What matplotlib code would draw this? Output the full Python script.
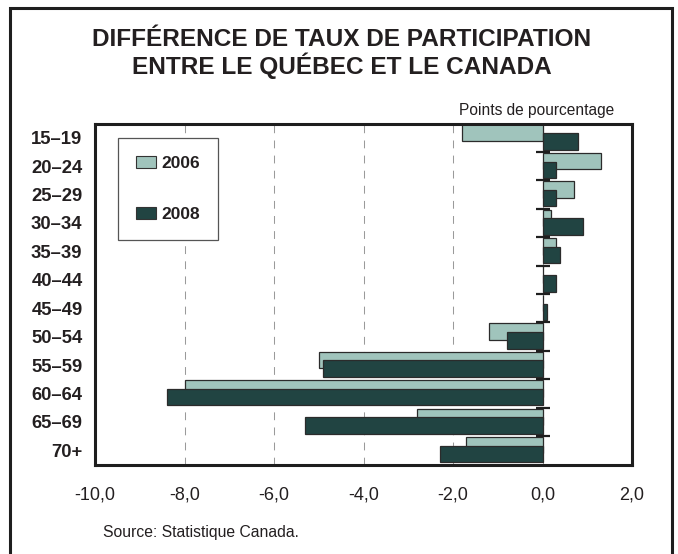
import matplotlib
matplotlib.use("Agg")
import matplotlib.pyplot as plt
import numpy as np
from matplotlib.patches import Rectangle
from matplotlib.ticker import FuncFormatter, FixedLocator
from matplotlib.legend_handler import HandlerPatch

plt.rcParams['font.family'] = ['Liberation Sans', 'DejaVu Sans']

# ---- data ----
categories = ['15–19', '20–24', '25–29', '30–34', '35–39', '40–44',
              '45–49', '50–54', '55–59', '60–64', '65–69', '70+']
values_2006 = [-1.8, 1.3, 0.7, 0.2, 0.3, 0.0, 0.0, -1.2, -5.0, -8.0, -2.8, -1.7]
values_2008 = [0.8, 0.3, 0.3, 0.9, 0.4, 0.3, 0.1, -0.8, -4.9, -8.4, -5.3, -2.3]
series_labels = ['2006', '2008']
x_ticks = [-10, -8, -6, -4, -2, 0, 2]
title = "DIFFÉRENCE DE TAUX DE PARTICIPATION\nENTRE LE QUÉBEC ET LE CANADA"
unit_label = "Points de pourcentage"
source = "Source: Statistique Canada."

# ---- style ----
W, H = 678, 554
DPI = 100
c2006 = '#a0c4bc'
c2008 = '#214442'
edge = '#2b2b2b'
txt = '#231f20'

fig = plt.figure(figsize=(W / DPI, H / DPI), dpi=DPI)
fig.patch.set_facecolor('white')

def fx(px):
    return px / W

def fy(py):
    return 1 - py / H

ax_l, ax_r, ax_t, ax_b = 95, 632, 123.5, 464.5
ax = fig.add_axes([fx(ax_l), fy(ax_b), fx(ax_r - ax_l), (ax_b - ax_t) / H])

y = np.arange(len(categories))
bh = 0.58
ax.barh(y - 0.18, values_2006, height=bh, color=c2006, edgecolor=edge,
        linewidth=0.9, label=series_labels[0], zorder=2)
ax.barh(y + 0.13, values_2008, height=bh, color=c2008, edgecolor=edge,
        linewidth=0.9, label=series_labels[1], zorder=3)

xlim = (x_ticks[0], x_ticks[-1])
ylim = (len(categories) - 0.5, -0.5)
ax.set_xlim(*xlim)
ax.set_ylim(*ylim)
ax.set_xticks(x_ticks)
ax.xaxis.set_major_formatter(FuncFormatter(lambda v, p: f"{v:.1f}".replace('.', ',')))
ax.set_yticks(y)
ax.set_yticklabels(categories, fontweight='bold')
ax.tick_params(axis='x', length=0, pad=16, labelsize=13, labelcolor=txt)
ax.tick_params(axis='y', length=0, pad=9, labelsize=13.3, labelcolor=txt)

ax.grid(axis='x', color='#9a9a9a', linewidth=0.75, linestyle=(0, (7.5, 7.0)), zorder=1)
ax.set_axisbelow(True)
for s in ax.spines.values():
    s.set_linewidth(2.2)
    s.set_color('#1e1e1e')

# zero axis with boundary ticks (overlay axes with the same scales)
ax2 = fig.add_axes(ax.get_position(), frameon=False)
ax2.set_xlim(*xlim)
ax2.set_ylim(*ylim)
ax2.patch.set_visible(False)
for k, s in ax2.spines.items():
    s.set_visible(k == 'left')
ax2.spines['left'].set_position(('data', 0))
ax2.spines['left'].set_linewidth(2.2)
ax2.spines['left'].set_color('#1e1e1e')
ax2.yaxis.set_major_locator(FixedLocator(y[:-1] + 0.5))
ax2.tick_params(axis='y', direction='inout', length=9.5, width=1.6,
                color='#1e1e1e', labelleft=False)
ax2.tick_params(axis='x', bottom=False, labelbottom=False)

# legend
def square_handle(legend, orig_handle, xdescent, ydescent, width, height, fontsize):
    side = height
    return Rectangle((width - side - xdescent, -ydescent), side, side)

leg = ax.legend(loc='upper left', bbox_to_anchor=(fx(118), fy(138)),
                bbox_transform=fig.transFigure, prop={'weight': 'bold', 'size': 12.5},
                frameon=True, fancybox=False, framealpha=1, edgecolor='#555555',
                borderpad=1.04, borderaxespad=0, handlelength=1.15, handleheight=0.72,
                handletextpad=0.3, labelspacing=2.03,
                handler_map={Rectangle: HandlerPatch(patch_func=square_handle)})
leg.get_frame().set_linewidth(0.9)
for t in leg.get_texts():
    t.set_color(txt)
for h in leg.legend_handles:
    h.set_edgecolor('#333333')
    h.set_linewidth(0.8)

# texts
fig.text(fx(342), fy(28.5), title, ha='center', va='top', fontsize=17.6,
         fontweight='bold', color=txt, linespacing=1.04)
fig.text(fx(537), fy(114.5), unit_label, ha='center', va='baseline',
         fontsize=11.2, color=txt)
fig.text(fx(103), fy(537), source, ha='left', va='baseline',
         fontsize=11.3, color=txt)

# outer frame
fig.add_artist(Rectangle((fx(10), fy(570)), fx(662), (570 - 8) / H,
                         transform=fig.transFigure, fill=False,
                         edgecolor='#1e1e1e', linewidth=2.2, zorder=10))

fig.savefig('out.png', dpi=DPI)
